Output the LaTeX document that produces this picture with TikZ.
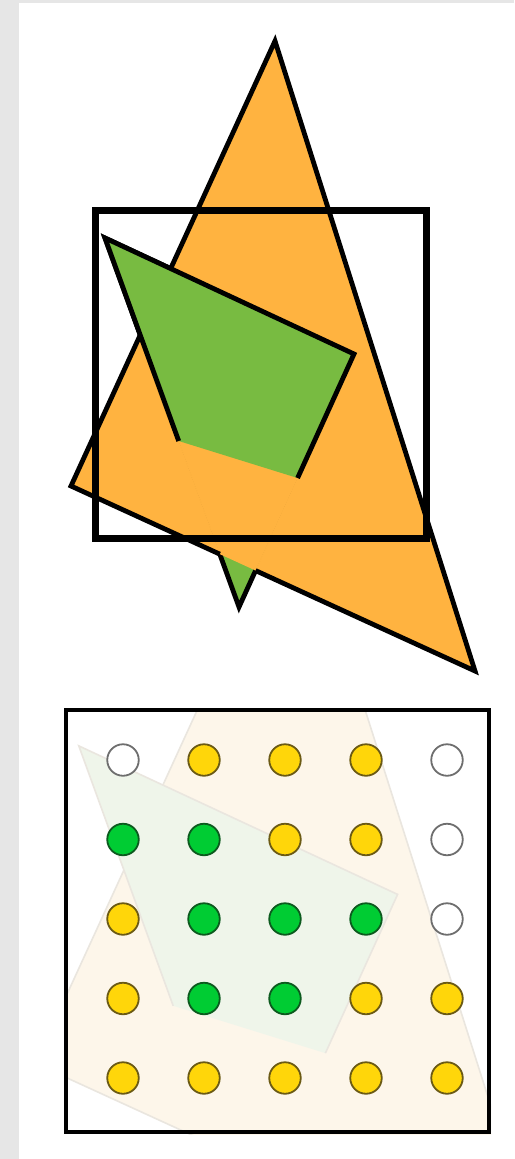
\documentclass[tikz,border=0pt]{standalone}
\definecolor{bgray}{HTML}{E6E6E6}
\definecolor{org}{HTML}{FFB340}
\definecolor{grn}{HTML}{78BB41}
\definecolor{forg}{HTML}{FDF6EA}
\definecolor{fgrn}{HTML}{EFF5EA}
\definecolor{fedge}{HTML}{EAE6DF}
\definecolor{yel}{HTML}{FFD60A}
\definecolor{yeld}{HTML}{6B5A14}
\definecolor{dgrn}{HTML}{00CC33}
\definecolor{dgrnd}{HTML}{0C5A1E}
\definecolor{wdot}{HTML}{6E6E6E}
\newcommand\scenecoords[1]{%
  \coordinate (#1P) at (275,41);
  \coordinate (#1L) at (71,486);
  \coordinate (#1R) at (475,671);
  \coordinate (#1G1) at (105,238);
  \coordinate (#1G2) at (354,354);
  \coordinate (#1T) at (239,607);
  \coordinate (#1I1) at (178.7,441);
  \coordinate (#1I2) at (297.6,478);}
\begin{document}
\begin{tikzpicture}[x=1pt,y=-1pt,line join=miter,
  edgeline/.style={draw=black,line width=4.8pt},
  frameline/.style={draw=black,line width=7pt},
  seam/.style={draw=org!75!black,line width=0.4pt,opacity=0.35,dotted},
  fadeedge/.style={draw=fedge,line width=1.6pt},
  dotbase/.style={circle,minimum size=31.5pt,inner sep=0pt,line width=1.8pt},
  dotw/.style={dotbase,draw=wdot,fill=white},
  doty/.style={dotbase,draw=yeld,fill=yel},
  dotg/.style={dotbase,draw=dgrnd,fill=dgrn}]
\useasboundingbox (0,0) rectangle (514,1159);
\fill[bgray] (0,0) rectangle (514,1159);
\fill[white] (19,3) rectangle (514,1159);

% ---------- top scene ----------
\scenecoords{}
\coordinate (A) at (intersection of L--R and G1--T);
\coordinate (B) at (intersection of L--R and G2--T);

% green triangle (lower part shows as the tip)
\filldraw[fill=grn,edgeline] (G1) -- (G2) -- (T) -- cycle;
% orange triangle
\fill[org] (P) -- (L) -- (R) -- cycle;
\draw[seam] (I1) -- (A);
\draw[seam] (I2) -- (B);
\draw[edgeline] (A) -- (L) -- (P) -- (R) -- (B);
% green part in front of the orange triangle
\fill[grn] (G1) -- (G2) -- (I2) -- (I1) -- cycle;
\draw[edgeline] (I1) -- (G1) -- (G2) -- (I2);
% square
\draw[frameline] (95,210) rectangle (426,538);

% ---------- bottom sample grid ----------
\begin{scope}
  \clip (64,708) rectangle (491,1134);
  \begin{scope}[shift={(-55.6,441.2)},scale=1.28]
    \scenecoords{f}
    \filldraw[fill=forg,fadeedge] (fP) -- (fL) -- (fR) -- cycle;
    \fill[fgrn] (fG1) -- (fG2) -- (fI2) -- (fI1) -- cycle;
    \draw[fadeedge] (fI1) -- (fG1) -- (fG2) -- (fI2);
  \end{scope}
\end{scope}
\draw[black,line width=3.4pt] (66,710) rectangle (489,1132);

\foreach \s [count=\i from 0] in {w,y,y,y,w, g,g,y,y,w, y,g,g,g,w, y,g,g,y,y, y,y,y,y,y} {
  \pgfmathtruncatemacro\col{mod(\i,5)}
  \pgfmathtruncatemacro\row{floor(\i/5)}
  \node[dot\s] (c\row\col) at ({123+81*\col},{760+79.5*\row}) {};
}
\end{tikzpicture}
\end{document}
